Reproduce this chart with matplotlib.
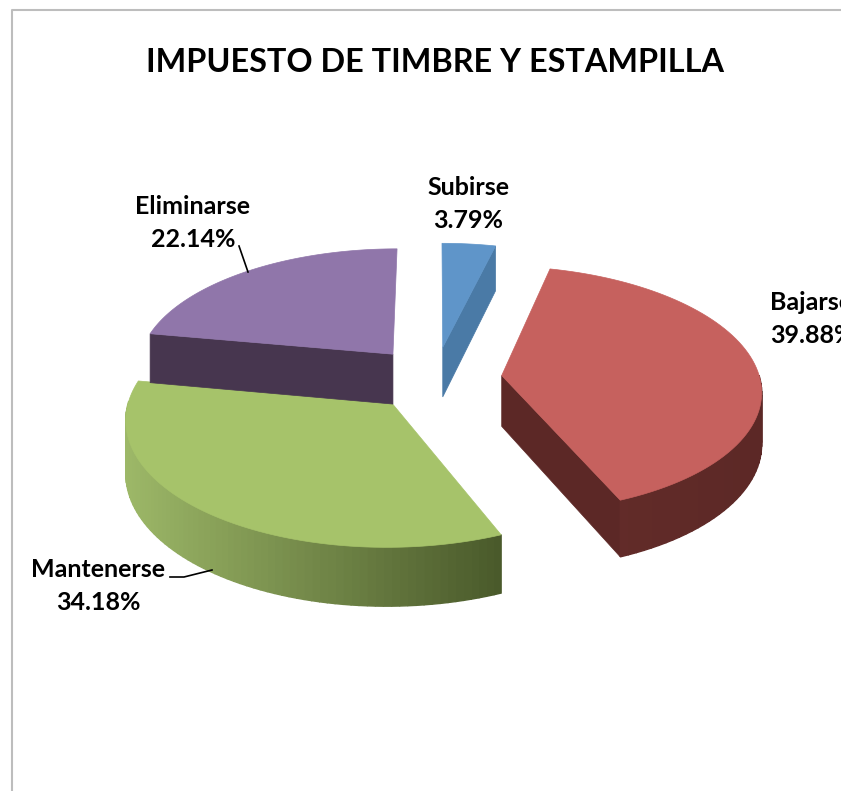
# 3D style exploded pie, drawn by hand since matplotlib has no real 3D pie
import numpy as np
import matplotlib
matplotlib.use('Agg')
import matplotlib.pyplot as plt
from matplotlib.colors import to_rgb

plt.rcParams['font.family'] = ['Lato', 'DejaVu Sans']

title = 'IMPUESTO DE TIMBRE Y ESTAMPILLA'
labels = ['Subirse', 'Bajarse', 'Mantenerse', 'Eliminarse']
values = [3.79, 39.88, 34.18, 22.14]

top_colors = ['#5f95c9', '#c6615e', '#a6c36a', '#9076aa']
wall_light = ['#4a7aa6', '#652d2a', '#9db868', '#47364f']
wall_dark = ['#4a7aa6', '#5c2826', '#4a5a2b', '#47364f']

# projection of the pie plane onto the picture, in pixels
cx, cy = 435, 378
rx, ry = 258, 122
persp = 0.111
explode = 0.26
depth = 51


def project(u, v):
    w = 1 + persp * v
    return cx + rx * u / w, cy - ry * v / w, depth / w


fig = plt.figure(figsize=(8.41, 7.91), dpi=100)
ax = fig.add_axes([0, 0, 1, 1])
ax.set_xlim(0, 841)
ax.set_ylim(791, 0)
ax.axis('off')

# chart frame runs off the right and bottom of the crop
ax.plot([12, 12, 841], [791, 10, 10], color='#bdbdbd', lw=1.5)

fracs = np.array(values) / sum(values) * 360
starts = np.concatenate([[0], np.cumsum(fracs)[:-1]])

# back to front
for i in [3, 0, 1, 2]:
    a0 = starts[i]
    a1 = a0 + fracs[i]
    mid = np.radians((a0 + a1) / 2)
    off_u, off_v = explode * np.sin(mid), explode * np.cos(mid)
    ang = np.radians(np.linspace(a0, a1, 80))
    sx, sy, d = project(np.sin(ang) + off_u, np.cos(ang) + off_v)
    ax_, ay_, ad_ = project(off_u, off_v)

    # cut faces, only the ones turned towards the viewer
    if np.cos(np.radians(a0 - 90)) < -1e-6:
        ax.fill([ax_, sx[0], sx[0], ax_], [ay_, sy[0], sy[0] + d[0], ay_ + ad_],
                color=wall_dark[i], lw=0.5, zorder=i + 1)
    if np.cos(np.radians(a1 + 90)) < -1e-6:
        ax.fill([ax_, sx[-1], sx[-1], ax_], [ay_, sy[-1], sy[-1] + d[-1], ay_ + ad_],
                color=wall_dark[i], lw=0.5, zorder=i + 1)

    # outer wall as strips, shaded from left to right, front half only
    c0, c1 = np.array(to_rgb(wall_light[i])), np.array(to_rgb(wall_dark[i]))
    for k in range(len(sx) - 1):
        if np.cos(ang[k]) > 0 and np.cos(ang[k + 1]) > 0:
            continue
        t = (sx[k] - sx.min()) / (sx.max() - sx.min())
        col = c0 + (c1 - c0) * t
        ax.fill([sx[k], sx[k + 1], sx[k + 1], sx[k]],
                [sy[k], sy[k + 1], sy[k + 1] + d[k + 1], sy[k] + d[k]],
                color=col, lw=1, zorder=i + 1)

    # top face
    ax.fill(np.r_[ax_, sx], np.r_[ay_, sy], color=top_colors[i], lw=0.5, zorder=i + 1.5)

ax.text(435, 62, title, ha='center', va='center', fontsize=23.3, fontweight='bold', color='black')

text_pos = [(468, 204), (770, 319), (98, 586), (193, 223)]
aligns = ['center', 'left', 'center', 'center']
for name, val, pos, al in zip(labels, values, text_pos, aligns):
    ax.text(pos[0], pos[1], f'{name}\n{val:.2f}%', ha=al, va='center', multialignment=al,
            fontsize=18, fontweight='bold', color='black', linespacing=1.5, zorder=10)

# leader lines
ax.plot([239, 248], [246, 272], color='black', lw=1.2, zorder=10)
ax.plot([170, 184, 212], [577, 577, 570], color='black', lw=1.2, zorder=10)

plt.savefig('out.png', dpi=100)
